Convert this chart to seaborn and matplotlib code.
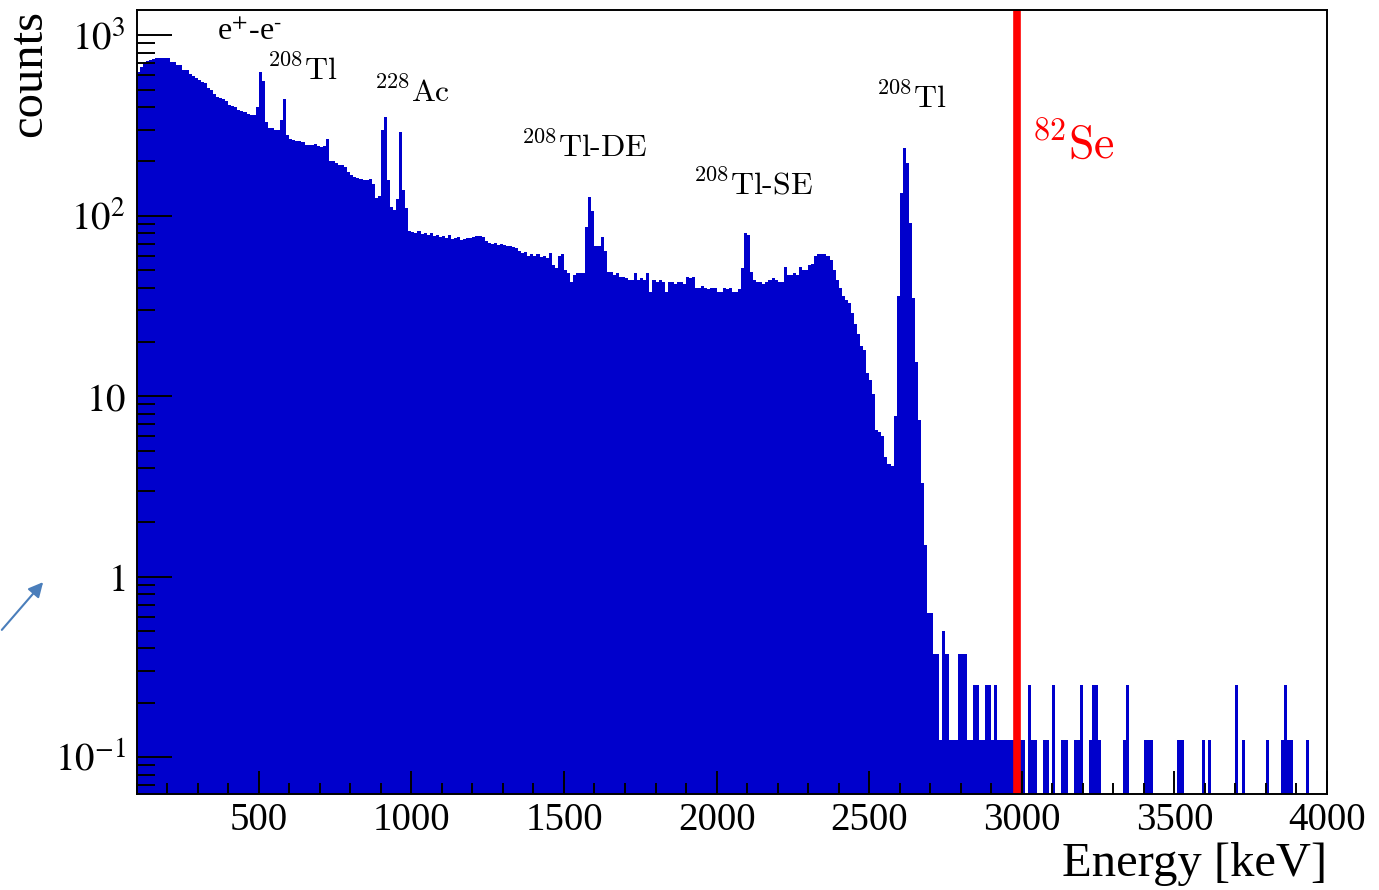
import numpy as np
import pandas as pd
import matplotlib
matplotlib.use("Agg")
import matplotlib.pyplot as plt
import seaborn as sns
from matplotlib.ticker import LogLocator, MultipleLocator, NullFormatter

# 10 keV bins from 100 to 4000 keV (lower edges)
bin_lo = np.arange(100, 4000, 10)

# counts per bin, one row = 100 keV
counts = [
    625, 666, 709, 720, 730, 737, 744, 744, 744, 744,        # 100
    744, 712, 712, 683, 683, 641, 641, 610, 593, 580,        # 200
    564, 550, 543, 510, 497, 470, 455, 449, 445, 430,        # 300
    410, 405, 400, 385, 380, 375, 368, 362, 360, 400,        # 400
    625, 560, 330, 306, 306, 300, 300, 340, 443, 280,        # 500
    265, 263, 258, 260, 255, 247, 247, 245, 250, 244,        # 600
    240, 243, 265, 200, 200, 196, 190, 192, 185, 175,        # 700
    168, 164, 162, 160, 158, 158, 160, 150, 126, 128,        # 800
    300, 353, 158, 112, 108, 123, 291, 139, 110, 82,         # 900
    81, 80, 82, 79, 80, 78, 80, 77, 78, 76,                  # 1000
    77, 75, 78, 74, 75, 76, 73, 74, 75, 75,                  # 1100
    76, 77, 77, 76, 72, 71, 70, 71, 69, 70,                  # 1200
    69, 68, 68, 67, 66, 64, 62, 63, 60, 61,                  # 1300
    60, 61, 59, 60, 58, 62, 53, 51, 60, 61,                  # 1400
    50, 48, 43, 47, 48, 48, 48, 87, 127, 106,                # 1500
    68, 68, 76, 64, 49, 49, 47, 48, 46, 46,                  # 1600
    45, 44, 44, 48, 44, 45, 44, 48, 38, 44,                  # 1700
    43, 44, 43, 38, 43, 43, 42, 43, 43, 42,                  # 1800
    46, 45, 46, 40, 40, 41, 40, 39, 40, 40,                  # 1900
    38, 38, 40, 39, 40, 38, 38, 39, 51, 80,                  # 2000
    78, 49, 44, 43, 43, 42, 43, 44, 45, 44,                  # 2100
    43, 43, 52, 47, 47, 48, 47, 52, 50, 50,                  # 2200
    53, 54, 60, 61, 61, 61, 60, 57, 50, 44,                  # 2300
    40, 36, 34, 33, 29, 25, 22, 19, 18, 13.5,                # 2400
    12.3, 10.3, 6.5, 6.3, 6.0, 4.6, 4.2, 4.1, 7.8, 36,       # 2500
    134, 238, 196, 91, 35, 15.5, 7.4, 3.3, 1.5, 0.625,       # 2600
    0.625, 0.375, 0.375, 0.125, 0.5, 0.375, 0.125, 0.125, 0.125, 0.375,  # 2700
    0.375, 0.375, 0.125, 0.125, 0.25, 0.25, 0.125, 0.125, 0.25, 0.25,    # 2800
    0.125, 0.25, 0.125, 0.125, 0.125, 0.125, 0.125, 0.125, 0.125, 0.125, # 2900
    0.125, 0, 0.25, 0.125, 0.125, 0, 0, 0.125, 0.125, 0,                 # 3000
    0.25, 0, 0, 0.125, 0.125, 0, 0, 0.125, 0.125, 0.25,                  # 3100
    0, 0, 0.125, 0.25, 0.25, 0.125, 0, 0, 0, 0,                          # 3200
    0, 0, 0, 0.125, 0.25, 0, 0, 0, 0, 0,                                 # 3300
    0.125, 0.125, 0.125, 0, 0, 0, 0, 0, 0, 0,                            # 3400
    0, 0.125, 0.125, 0, 0, 0, 0, 0, 0, 0.125,                            # 3500
    0, 0.125, 0, 0, 0, 0, 0, 0, 0, 0,                                    # 3600
    0.25, 0, 0.125, 0, 0, 0, 0, 0, 0, 0,                                 # 3700
    0.125, 0, 0, 0, 0, 0.125, 0.25, 0.125, 0.125, 0,                     # 3800
    0, 0, 0, 0.125, 0, 0, 0, 0, 0, 0,                                    # 3900
]

# peak labels (text, energy, counts at baseline)
peak_text = [r"${}^{208}\mathrm{Tl}$", r"${}^{228}\mathrm{Ac}$",
             r"${}^{208}\mathrm{Tl}\text{-}\mathrm{DE}$",
             r"${}^{208}\mathrm{Tl}\text{-}\mathrm{SE}$", r"${}^{208}\mathrm{Tl}$"]
peak_x = [528, 878, 1360, 1922, 2522]
peak_y = [564, 426, 212, 131, 395]

q_value = 2985   # 82Se line

sns.set_style("white")
plt.rcParams["font.family"] = ["Liberation Serif", "DejaVu Serif"]
plt.rcParams["mathtext.fontset"] = "stix"
plt.rcParams["text.color"] = "black"
plt.rcParams["axes.labelcolor"] = "black"

fig = plt.figure(figsize=(13.79, 8.90), dpi=100)
ax = fig.add_axes([0.0991, 0.1079, 0.8632, 0.8809])

df = pd.DataFrame({"energy": bin_lo + 5, "counts": counts})
sns.histplot(data=df, x="energy", weights="counts", binwidth=10, binrange=(100, 4000),
             ax=ax, color="#0000cc", alpha=1, linewidth=0, element="bars")

ax.set_yscale("log")
ax.set_xlim(100, 4000)
ax.set_ylim(0.0625, 1380)
ax.set_axisbelow(False)

ax.axvline(q_value, color="#ff0000", lw=5.5, zorder=5)

# axes / ticks, ROOT style
ax.xaxis.set_minor_locator(MultipleLocator(100))
ax.set_xticks([500, 1000, 1500, 2000, 2500, 3000, 3500, 4000])
ax.set_xticklabels(["500", "1000", "1500", "2000", "2500", "3000", "3500", "4000"])
ax.set_yticks([0.1, 1, 10, 100, 1000])
ax.set_yticklabels([r"$10^{-1}$", r"$1$", r"$10$", r"$10^{2}$", r"$10^{3}$"])
ax.yaxis.set_minor_locator(LogLocator(base=10, subs=np.arange(2, 10)))
ax.yaxis.set_minor_formatter(NullFormatter())

ax.tick_params(axis="x", which="major", direction="in", length=16.5, width=1.4,
               labelsize=28, pad=6, top=False, bottom=True, colors="black")
ax.tick_params(axis="x", which="minor", direction="in", length=8, width=1.4,
               top=False, bottom=True, colors="black")
ax.tick_params(axis="y", which="major", direction="in", length=25, width=1.4,
               labelsize=28, pad=8, right=False, left=True, colors="black")
ax.tick_params(axis="y", which="minor", direction="in", length=13, width=1.4,
               right=False, left=True, colors="black")

for sp in ax.spines.values():
    sp.set_visible(True)
    sp.set_color("black")
    sp.set_linewidth(1.4)
    sp.set_zorder(6)

ax.set_xlabel("Energy [keV]", fontsize=35, loc="right", labelpad=2)
ax.set_ylabel("counts", fontsize=35, loc="top")
ax.yaxis.set_label_coords(-0.072, 1.0)

# annotations
ax.text(363, 938, r"e$^{+}$-e$^{\text{-}}$", fontsize=23, va="baseline")
for t, x, y in zip(peak_text, peak_x, peak_y):
    ax.text(x, y, t, fontsize=23, math_fontfamily="cm", va="baseline")
ax.text(3031, 209, r"${}^{82}\mathrm{Se}$", fontsize=33, color="#ff0000",
        math_fontfamily="cm", va="baseline")

# stray arrow on the left
ax.annotate("", xy=(0.0326, 0.3483), xycoords="figure fraction",
            xytext=(0.0, 0.2899), textcoords="figure fraction",
            arrowprops=dict(arrowstyle="-|>", color="#4a7ebb", lw=1.5,
                            mutation_scale=22), annotation_clip=False)

fig.savefig("out.png", dpi=100)
